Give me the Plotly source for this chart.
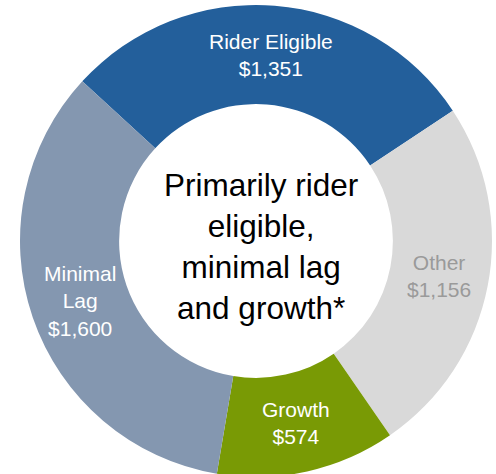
import math
import plotly.graph_objects as go

labels = ["Rider Eligible", "Other", "Growth", "Minimal Lag"]
values = [1351, 1156, 574, 1600]
display_labels = ["Rider Eligible", "Other", "Growth", "Minimal<br>Lag"]
colors = ["#235F9B", "#D9D9D9", "#799A05", "#8497B0"]
text_colors = ["#FFFFFF", "#9A9A9A", "#FFFFFF", "#FFFFFF"]
center_text = "Primarily rider<br>eligible,<br>minimal lag<br>and growth*"

W, H = 496, 482
CX, CY, R = 256, 241, 236
HOLE = 0.58
ROT = -47.4
FONT = "Liberation Sans, Arial, sans-serif"

fig = go.Figure(go.Pie(
    labels=labels,
    values=values,
    textinfo="none",
    marker=dict(colors=colors, line=dict(width=0)),
    hole=HOLE,
    sort=False,
    direction="clockwise",
    rotation=ROT,
    showlegend=False,
    hoverinfo="label+value",
    domain=dict(x=[(CX - R) / W, (CX + R) / W], y=[(H - CY - R) / H, (H - CY + R) / H]),
))

# slice labels placed at the middle of each ring segment (angles from the data)
total = sum(values)
r_lab = R * (1 + HOLE) / 2
cum = 0
for lab, v, tc in zip(display_labels, values, text_colors):
    mid = ROT + (cum + v / 2) / total * 360
    cum += v
    a = math.radians(mid)
    px = CX + r_lab * math.sin(a)
    py = CY - r_lab * math.cos(a)
    fig.add_annotation(
        text=f"{lab}<br>${v:,}", x=px / W, y=1 - py / H, xref="paper", yref="paper",
        showarrow=False, align="center", xanchor="center", yanchor="middle",
        font=dict(family=FONT, size=21, color=tc),
    )

fig.add_annotation(
    text=center_text, x=261 / W, y=1 - 247 / H, xref="paper", yref="paper",
    showarrow=False, font=dict(family=FONT, size=31.5, color="#000000"),
    align="center", xanchor="center", yanchor="middle",
)

fig.update_layout(
    width=W, height=H,
    margin=dict(l=0, r=0, t=0, b=0),
    paper_bgcolor="white", plot_bgcolor="white",
)

fig.write_html(
    "out.html",
    config={"displayModeBar": False},
    post_script="document.body.style.margin='0';document.body.style.overflow='hidden';",
)
